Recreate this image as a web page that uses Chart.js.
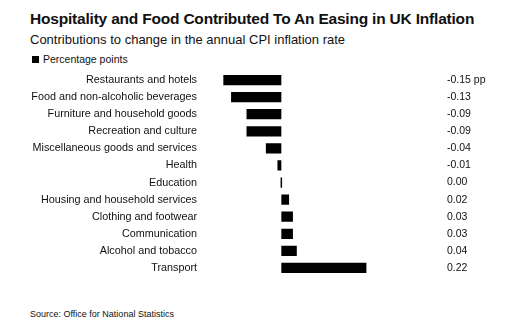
<!DOCTYPE html>
<html>
<head>
<meta charset="utf-8">
<script src="https://cdn.jsdelivr.net/npm/chart.js@4"></script>
<style>
  body { margin: 0; background: #fff; font-family: "Liberation Sans", Arial, sans-serif; color: #111; }
  #wrap { position: relative; width: 525px; height: 329px; overflow: hidden; }
  .title { position: absolute; left: 30px; top: 10px; font-weight: bold; font-size: 15.5px; letter-spacing: -0.2px; }
  .sub { position: absolute; left: 30px; top: 32px; font-size: 13px; }
  .legend { position: absolute; left: 32px; top: 53px; font-size: 10.5px; }
  .legend span { display: inline-block; width: 7px; height: 7px; background: #000; margin-right: 4px; }
  .source { position: absolute; left: 30px; top: 309px; font-size: 9px; }
  #chartContainer { position: absolute; left: 0; top: 58px; }
</style>
</head>
<body>
<div id="wrap">
  <div class="title">Hospitality and Food Contributed To An Easing in UK Inflation</div>
  <div class="sub">Contributions to change in the annual CPI inflation rate</div>
  <div class="legend"><span></span>Percentage points</div>
  <canvas id="chartContainer" width="525" height="232"></canvas>
  <div class="source">Source: Office for National Statistics</div>
</div>
<script>
// categories, top to bottom
let categories = [
  'Restaurants and hotels',
  'Food and non-alcoholic beverages',
  'Furniture and household goods',
  'Recreation and culture',
  'Miscellaneous goods and services',
  'Health',
  'Education',
  'Housing and household services',
  'Clothing and footwear',
  'Communication',
  'Alcohol and tobacco',
  'Transport'
];

// contribution in percentage points
let contributions = [-0.15, -0.13, -0.09, -0.09, -0.04, -0.01, 0.00, 0.02, 0.03, 0.03, 0.04, 0.22];

// text shown at the right of each row
let valueLabels = ['-0.15 pp', '-0.13', '-0.09', '-0.09', '-0.04', '-0.01', '0.00', '0.02', '0.03', '0.03', '0.04', '0.22'];

// draws the value column at the right
const valueColumn = {
  id: 'valueColumn',
  afterDatasetsDraw(chart) {
    const ctx = chart.ctx;
    const yScale = chart.scales.y;
    ctx.save();
    ctx.font = '10.5px "Liberation Sans", Arial, sans-serif';
    ctx.fillStyle = '#111';
    ctx.textAlign = 'left';
    ctx.textBaseline = 'middle';
    valueLabels.forEach((txt, i) => {
      ctx.fillText(txt, chart.chartArea.right + 11, yScale.getPixelForValue(i));
    });
    ctx.restore();
  }
};

function appendChart() {
  let chartContainer = document.getElementById('chartContainer');
  let chart = new Chart(chartContainer, {
    type: 'bar',
    data: {
      labels: categories,
      datasets: [{
        label: 'Percentage points',
        data: contributions,
        backgroundColor: '#000',
        categoryPercentage: 1,
        barPercentage: 0.6,
        minBarLength: 1.5
      }]
    },
    options: {
      indexAxis: 'y',
      responsive: false,
      animation: false,
      layout: { padding: { left: 28, right: 89, top: 0, bottom: 0 } },
      plugins: {
        legend: { display: false },
        tooltip: { enabled: false }
      },
      scales: {
        x: {
          display: false,
          min: -0.2,
          max: 0.4
        },
        y: {
          grid: { display: false, drawTicks: false },
          border: { display: false },
          ticks: {
            padding: 7,
            color: '#111',
            font: { family: '"Liberation Sans", Arial, sans-serif', size: 10.8 }
          },
          afterFit(scale) { scale.width = 176; }
        }
      }
    },
    plugins: [valueColumn]
  });
}

appendChart();
</script>
</body>
</html>
